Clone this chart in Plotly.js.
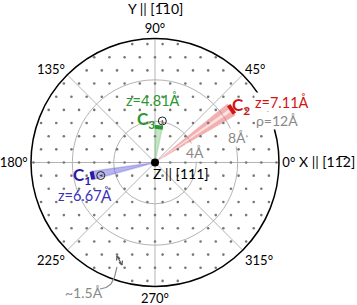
<!DOCTYPE html>
<html><head><meta charset="utf-8">
<script src="https://cdn.plot.ly/plotly-3.0.1.min.js"></script>
<style>html,body{margin:0;padding:0;background:#fff;}#chart{width:357px;height:305px;}</style>
</head><body><div id="chart"></div>
<script>
// ---- data ----
const angleTicks = [0, 45, 90, 135, 180, 225, 270, 315];
const angleLabels = ["0°", "45°", "90°", "135°", "180°", "225°", "270°", "315°"];
const ringRadii = [4, 8];
const radialMax = 12;                 // ρ = 12 Å
const latticeSpacing = 1.47;          // ~1.5 Å surface lattice
const siteNames = ["1", "2", "3"];
const siteTheta = [191.7, 34.75, 83.6];   // deg
const siteRho = [6.2, 9.03, 3.46];        // Å
const siteZ = [6.67, 7.11, 4.81];         // Å
const siteSpread = [7.5, 9, 11];          // angular spread of the cone, deg
const endBarSpan = [7.2, 6.2, 12.8];      // angular span of the end bar, deg
const dotSiteTheta = [193.5, 80];
const dotSiteRho = [5.4, 4.08];

// ---- styles ----
const dark = ["#2d1aa6", "#d11414", "#2a9630"];
const fill = ["rgba(95,90,215,0.45)", "rgba(240,150,150,0.28)", "rgba(110,190,110,0.40)"];
const edge = ["rgba(95,90,215,0.30)", "rgba(235,150,150,0.0)", "rgba(110,190,110,0.30)"];

// lattice dots
const latR = [], latT = [];
const rowH = latticeSpacing * Math.sqrt(3) / 2;
for (let j = -10; j <= 10; j++) {
  const off = (Math.abs(j) % 2) ? latticeSpacing / 2 : 0;
  for (let i = -10; i <= 10; i++) {
    const x = i * latticeSpacing + off, y = j * rowH;
    const r = Math.hypot(x, y);
    if (r > 0.3 && r <= radialMax - 0.2) {
      latR.push(r);
      latT.push(Math.atan2(y, x) * 180 / Math.PI);
    }
  }
}

const traces = [];
traces.push({type: "scatterpolar", r: latR, theta: latT, mode: "markers",
  marker: {size: 2.6, color: "#777"}, hoverinfo: "skip", showlegend: false});

for (let k = 0; k < 3; k++) {
  traces.push({type: "barpolar", r: [siteRho[k]], theta: [siteTheta[k]], width: [siteSpread[k]],
    marker: {color: fill[k], line: {color: edge[k], width: 1.5}}, showlegend: false, hoverinfo: "skip"});
}
// C2 cone shows two darker stripes along its edges
const c2Half = siteSpread[1] / 4 + 0.4;
traces.push({type: "barpolar", r: [siteRho[1], siteRho[1]],
  theta: [siteTheta[1] - c2Half, siteTheta[1] + c2Half], width: [3.2, 3.2],
  marker: {color: "rgba(228,95,95,0.38)", line: {width: 0}}, showlegend: false, hoverinfo: "skip"});

for (let k = 0; k < 3; k++) {
  traces.push({type: "scatterpolar", mode: "lines",
    r: [siteRho[k], siteRho[k]],
    theta: [siteTheta[k] - endBarSpan[k] / 2, siteTheta[k] + endBarSpan[k] / 2],
    line: {color: dark[k], width: 4}, showlegend: false, hoverinfo: "skip"});
}
traces.push({type: "scatterpolar", mode: "markers", r: dotSiteRho, theta: dotSiteTheta,
  marker: {symbol: "circle-open-dot", size: 8, color: "#222", line: {width: 1, color: "#222"}},
  showlegend: false, hoverinfo: "skip"});
traces.push({type: "scatterpolar", mode: "markers", r: [0], theta: [0],
  marker: {size: 8, color: "#000"}, showlegend: false, hoverinfo: "skip"});

const W = 357, H = 305;
const px = x => x / W, py = y => 1 - y / H;
const FONT = "Lato, 'Open Sans', sans-serif";
function ann(text, x, y, color, size, extra) {
  return Object.assign({text: text, x: px(x), y: py(y), xref: "paper", yref: "paper",
    showarrow: false, xanchor: "center", yanchor: "middle",
    font: {family: FONT, size: size || 13, color: color}}, extra || {});
}
const annotations = [
  ann("Y || [1\u030510]", 155, 9, "#000", 14),
  ann("X || [11\u03052]", 327, 162, "#000", 14),
  ann("Z || [111]", 181, 173, "#000", 14),
  ann("<b>C<sub>" + siteNames[0] + "</sub></b>", 82, 176, dark[0], 17),
  ann("z=" + siteZ[0].toFixed(2) + "Å", 85, 195, "#3a2fc0", 14.5),
  ann("<b>C<sub>" + siteNames[1] + "</sub></b>", 252, 106, dark[1], 17, {xanchor: "right"}),
  ann("z=" + siteZ[1].toFixed(2) + "Å", 254, 102, dark[1], 14.5, {xanchor: "left", bgcolor: "#fff", borderpad: 0}),
  ann("<b>C<sub>" + siteNames[2] + "</sub></b>", 146, 120, dark[2], 17),
  ann("z=" + siteZ[2].toFixed(2) + "Å", 153, 100, dark[2], 14.5),
  ann("ρ=" + radialMax + "Å", 277, 121, "#888", 14, {bgcolor: "#fff", borderpad: 0}),
  ann(ringRadii[1] + "Å", 237, 137, "#888", 14, {bgcolor: "#fff", borderpad: 0}),
  ann(ringRadii[0] + "Å", 195, 152, "#888", 14, {bgcolor: "#fff", borderpad: 0}),
  ann("~1.5Å", 84, 292, "#888", 14)
];

function seg(x0, y0, x1, y1, color, w) {
  return {type: "line", xref: "paper", yref: "paper", layer: "above",
    x0: px(x0), y0: py(y0), x1: px(x1), y1: py(y1), line: {color: color, width: w}};
}
const shapes = [
  // curved callout from "~1.5Å" up to the lattice spacing
  seg(100, 289, 106, 287.5, "#8a8a8a", 1.2),
  seg(106, 287.5, 111, 284, "#8a8a8a", 1.2),
  seg(111, 284, 114.5, 277, "#8a8a8a", 1.2),
  seg(114.5, 277, 117, 267, "#8a8a8a", 1.2),
  // double-headed spacing marker between two lattice sites
  seg(117, 256, 122, 265, "#555", 1.2),
  seg(117, 256, 116.6, 260.5, "#555", 1.2),
  seg(117, 256, 120, 258.8, "#555", 1.2),
  seg(122, 265, 122.4, 260.5, "#555", 1.2),
  seg(122, 265, 119, 262.2, "#555", 1.2)
];

const layout = {
  width: W, height: H, margin: {l: 0, r: 0, t: 0, b: 0},
  paper_bgcolor: "#fff", showlegend: false,
  font: {family: FONT, size: 13, color: "#000"},
  polar: {
    domain: {x: [31 / W, 279 / W], y: [1 - 286.5 / H, 1 - 38.5 / H]},
    bgcolor: "rgba(0,0,0,0)",
    barmode: "overlay",
    radialaxis: {range: [0, radialMax], tickvals: ringRadii, showticklabels: false, ticks: "",
      showline: false, gridcolor: "#b4b4b4", gridwidth: 1},
    angularaxis: {tickvals: angleTicks, ticktext: angleLabels, direction: "counterclockwise",
      rotation: 0, showline: true, linecolor: "#000", linewidth: 1.5, ticks: "",
      gridcolor: "#b4b4b4", gridwidth: 1, tickfont: {family: FONT, size: 13, color: "#000"},
      layer: "below traces"}
  },
  shapes: shapes,
  annotations: annotations
};
Plotly.newPlot("chart", traces, layout, {displayModeBar: false, staticPlot: true});
</script></body></html>
